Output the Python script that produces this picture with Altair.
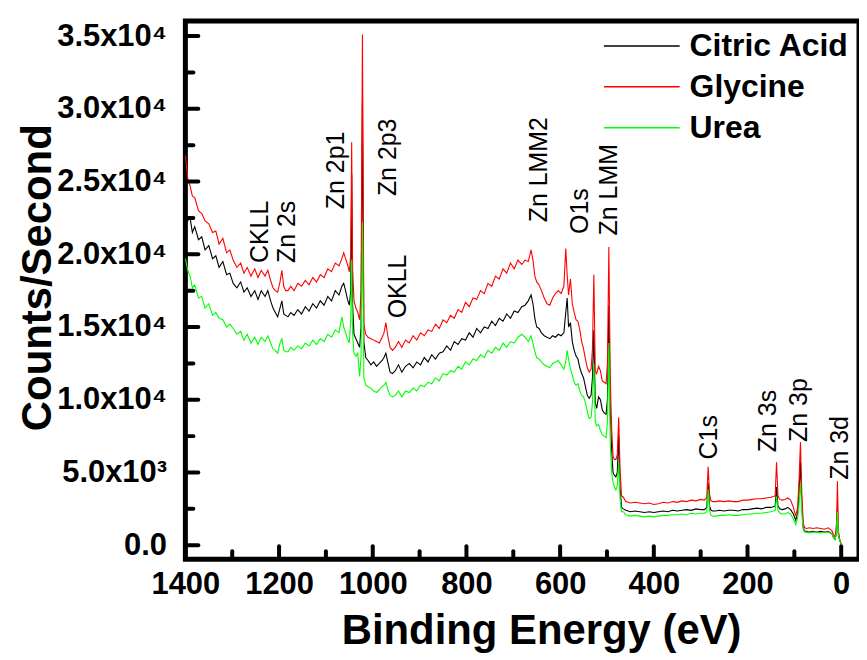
import altair as alt
import pandas as pd

FONT = "Liberation Sans"
SERIES = ["Citric Acid", "Glycine", "Urea"]
COLORS = ["#000000", "#ff0000", "#00ff00"]

# Binding energy (eV) sampled along the survey scan
ENERGY = [
    1400, 1395, 1390, 1385, 1380, 1372, 1365, 1358, 1350, 1342, 1335, 1328, 1320, 1312, 1305,
    1298, 1290, 1282, 1275, 1268, 1260, 1252, 1245, 1238, 1230, 1224, 1218, 1213, 1208, 1203, 1198, 1194, 1190, 1186,
    1181, 1175, 1168, 1160, 1152, 1144, 1136, 1128, 1120, 1112, 1104, 1096, 1088, 1080, 1072, 1066, 1062, 1058, 1054, 1050,
    1047, 1045, 1043, 1040, 1036, 1032, 1028, 1025, 1022, 1019, 1015, 1010,
    1004, 998, 992, 986, 980, 976, 972, 968, 963, 958,
    952, 945, 938, 930, 922, 914, 906, 898, 890, 882, 874, 866, 858, 850, 842, 834, 826, 818, 810, 802,
    794, 786, 778, 770, 762, 754, 746, 738, 730, 722, 714, 706, 698, 690, 682,
    675, 668, 662, 658, 654, 650, 645, 640, 634, 628, 622, 616, 610, 604,
    598, 592, 588, 585, 582, 578, 574, 570, 566, 562, 558, 554, 550, 546, 542, 538, 534, 531, 528, 525,
    522, 518, 514, 510, 506, 502, 499, 496, 493, 490, 487, 484, 481, 478, 475, 472, 469,
    465, 460, 450, 440, 430, 420, 410, 400, 390, 380, 370, 360, 350, 340, 330, 320, 310, 300,
    292, 287, 284, 281, 278, 274,
    268, 260, 250, 240, 230, 220, 210, 200, 190, 180, 170, 160, 150, 145,
    141, 138, 135, 131, 126, 120, 114, 108, 102, 97, 93,
    90, 87, 84, 81, 78, 74, 68, 60, 52, 44, 36, 28, 20, 16, 13, 10, 8, 6, 3, 0,
]

CITRIC = [
    23200, 22300, 22500, 21500, 21900, 21000, 21200, 20300, 20600, 19700, 19900, 19100, 19500, 18600, 18700,
    18000, 17700, 18100, 17400, 17700, 17100, 17500, 16900, 17500, 17100, 17500, 16800, 16300, 16000, 15700, 16300, 16800, 15900, 15800,
    15700, 16000, 15800, 16200, 15900, 16400, 16100, 16600, 16300, 16800, 16500, 17100, 16800, 17500, 17200, 17800, 18000, 17500, 16900, 16500,
    17500, 25500, 16500, 14500, 14200, 13900, 13600, 15000, 30500, 14000, 12900, 12700,
    12400, 12600, 12300, 12500, 12700, 12900, 13200, 12600, 11900, 11800,
    12000, 12400, 11900, 12300, 12500, 12200, 12600, 12400, 12900, 12600, 13100, 12800, 13200, 13300, 13700, 13400, 14000, 13800, 14200, 14100,
    14600, 14300, 14900, 14600, 15000, 14900, 15400, 15100, 15600, 15400, 15900, 15600, 16100, 16000, 16400,
    16500, 16800, 17200, 16600, 15600, 15000, 14900, 14600, 14400, 14300, 14200, 14400, 14300, 14500,
    14400, 14600, 16000, 17000, 15000, 15300, 14000, 13400, 13000, 12800, 12200, 11800, 11500, 10900, 10300, 10100, 10300, 11500, 14800, 9800,
    9400, 10200, 10000, 9300, 9100, 9000, 10000, 16500, 9200, 6500, 5000, 4800, 4700, 5000, 7500, 4000, 2600,
    2500, 2400, 2300, 2350, 2300, 2250, 2300, 2250, 2300, 2350, 2300, 2400, 2350, 2400, 2450, 2400, 2500, 2450,
    2450, 2600, 4300, 2700, 2400, 2350,
    2350, 2400, 2350, 2400, 2400, 2350, 2450, 2450, 2500, 2550, 2500, 2600, 2600, 2650,
    2700, 4000, 2700, 2500, 2450, 2500, 2600, 2450, 2150, 1700, 2200,
    3500, 5750, 2800, 1200, 950, 950, 900, 950, 900, 950, 900, 950, 800, 500, 400, 900, 2450, 700, 300, 70,
]

GLYCINE = [
    26800, 25200, 24700, 24000, 23900, 23000, 22800, 22300, 22100, 21500, 21600, 20700, 21100, 20100, 20300,
    19600, 19100, 19400, 18700, 19100, 18500, 19000, 18400, 18900, 18500, 18900, 18200, 17700, 17500, 17400, 18100, 18900, 17800, 17500,
    17500, 17800, 17500, 18000, 17800, 18200, 17900, 18400, 18100, 18600, 18400, 19000, 18800, 19400, 19200, 19700, 20100, 19700, 19300, 18800,
    20000, 27700, 19000, 16800, 16300, 16000, 15500, 17500, 35100, 15200, 14500, 14300,
    14200, 14100, 14000, 13900, 14300, 14600, 15300, 14400, 13600, 13400,
    13600, 14000, 13600, 14100, 13900, 14400, 14100, 14600, 14400, 14800, 14700, 15200, 14900, 15500, 15300, 15800, 15600, 16200, 16000, 16700,
    16400, 17000, 16900, 17500, 17300, 18000, 17800, 18500, 18300, 19000, 18700, 19400, 19000, 19600, 19300,
    19600, 19500, 20300, 19600, 18500, 18100, 17900, 17500, 17000, 16600, 16500, 17000, 17300, 17500,
    17300, 17800, 20400, 18600, 17200, 18300, 16600, 16000, 15500, 15400, 14800, 14000, 13500, 12800, 12200, 11900, 12100, 13500, 18600, 12000,
    11800, 12300, 12000, 11300, 11200, 11100, 12500, 20500, 11500, 8000, 6100, 5900, 5900, 6200, 8800, 5200, 3400,
    3300, 3000, 2900, 2950, 2900, 2850, 2900, 2800, 2850, 2950, 2900, 3000, 2950, 3050, 3000, 3100, 3050, 3150,
    3100, 3300, 5400, 3500, 3050, 3000,
    3000, 3050, 3000, 3050, 3000, 3000, 3100, 3100, 3150, 3200, 3200, 3250, 3300, 3350,
    3400, 5700, 3400, 3150, 3100, 3150, 3250, 3100, 2600, 2000, 2600,
    4500, 7100, 3500, 1500, 1200, 1150, 1200, 1150, 1200, 1150, 1100, 1200, 1000, 700, 550, 1500, 4400, 1000, 400, 100,
]

UREA = [
    19700, 18900, 18500, 17700, 17900, 17000, 17100, 16300, 16600, 15800, 16000, 15600, 15500, 15000, 15200,
    14900, 14500, 14700, 14100, 14500, 13900, 14300, 13800, 14300, 14000, 14400, 13900, 13500, 13400, 13200, 13900, 14200, 13400, 13300,
    13300, 13600, 13400, 13700, 13500, 13900, 13700, 14100, 13800, 14200, 14000, 14500, 14300, 14800, 14600, 15700, 15000, 14600, 14200, 13900,
    15500, 19600, 14500, 13200, 13000, 13200, 11600, 13000, 22200, 11500, 11000, 10900,
    10800, 10600, 10500, 10700, 10900, 11000, 11200, 10700, 10300, 10200,
    10300, 10600, 10200, 10600, 10500, 10800, 10600, 11000, 10900, 11200, 11100, 11500, 11300, 11800, 11700, 12000, 11900, 12300, 12100, 12600,
    12400, 12800, 12700, 13100, 12900, 13400, 13200, 13600, 13400, 13900, 13600, 14000, 13900, 14300, 14500,
    14300, 14000, 14400, 13900, 13300, 12900, 12800, 12600, 12400, 12300, 12200, 12500, 12600, 12700,
    12400, 12100, 12600, 13400, 12800, 12100, 11700, 11200, 11000, 11100, 10600, 10300, 10200, 9800, 9200, 8700, 8800, 9800, 12500, 8500,
    8200, 8300, 7900, 7600, 7500, 7400, 8500, 13900, 7000, 5000, 4300, 4000, 3800, 4100, 5700, 3200, 2300,
    2300, 2100, 2000, 2050, 2000, 1950, 2000, 1950, 2000, 2050, 2050, 2100, 2100, 2150, 2100, 2200, 2150, 2200,
    2200, 2300, 3850, 2400, 2050, 2000,
    2000, 2050, 2050, 2100, 2050, 2050, 2100, 2150, 2150, 2200, 2200, 2250, 2300, 2350,
    2400, 3350, 2400, 2200, 2150, 2150, 2250, 2150, 1800, 1400, 1900,
    2800, 4300, 2200, 1100, 900, 900, 850, 900, 900, 850, 900, 900, 800, 500, 400, 900, 2300, 700, 300, 70,
]

PEAK_LABELS = ["CKLL", "Zn 2s", "Zn 2p1", "Zn 2p3", "OKLL", "Zn LMM2", "O1s", "Zn LMM",
               "C1s", "Zn 3s", "Zn 3p", "Zn 3d"]
PEAK_E = [1240, 1183, 1079, 968, 947, 645, 557, 496, 283, 157, 89, 2]
PEAK_Y = [19400, 19400, 23100, 24000, 15600, 22200, 21400, 21300, 5900, 6400, 7100, 4500]

X_MAJOR = [1400, 1200, 1000, 800, 600, 400, 200, 0]
X_MINOR = [1300, 1100, 900, 700, 500, 300, 100]
Y_MAJOR = [0, 5000, 10000, 15000, 20000, 25000, 30000, 35000]
Y_MINOR = [2500, 7500, 12500, 17500, 22500, 27500, 32500]

for _name, _vals in zip(SERIES, [CITRIC, GLYCINE, UREA]):
    if len(_vals) != len(ENERGY):
        raise ValueError(f"{_name}: {len(_vals)} values vs {len(ENERGY)} energies")

df = pd.DataFrame({
    "energy": ENERGY * 3,
    "counts": CITRIC + GLYCINE + UREA,
    "sample": [s for s in SERIES for _ in ENERGY],
})
peaks = pd.DataFrame({"label": PEAK_LABELS, "energy": PEAK_E, "counts": PEAK_Y})

W, H = 676, 540
X_SCALE = alt.Scale(domain=[-38, 1400], reverse=True, nice=False, zero=False)
Y_SCALE = alt.Scale(domain=[-960, 36030], nice=False, zero=False)

y_label_expr = (
    "datum.value == 0 ? '0.0' : (datum.value < 10000 ? "
    "format(datum.value / 1000, '.1f') + 'x10\u00b3' : "
    "format(datum.value / 10000, '.1f') + 'x10\u2074')"
)

X_AXIS = alt.Axis(
    values=X_MAJOR, format="d", title="Binding Energy (eV)", grid=False,
    domain=False, ticks=False, tickSize=0, labelFont=FONT, labelFontSize=31,
    labelFontWeight="bold", labelColor="black", labelPadding=10,
    labelFlush=False, labelOverlap=False, titleFont=FONT, titleFontSize=42,
    titleFontWeight="bold", titleColor="black", titleX=357, titleY=85,
    titleBaseline="alphabetic", titleAlign="center")
Y_AXIS = alt.Axis(
    values=Y_MAJOR, labelExpr=y_label_expr, title="Counts/Second", grid=False,
    domain=False, ticks=False, tickSize=0, labelFont=FONT, labelFontSize=31,
    labelFontWeight="bold", labelColor="black", labelPadding=19,
    labelFlush=False, labelOverlap=False, titleFont=FONT, titleFontSize=42,
    titleFontWeight="bold", titleColor="black", titleX=-148, titleY=257,
    titleAngle=270, titleBaseline="middle", titleAlign="center")

lines = alt.Chart(df).mark_line(strokeWidth=1.1).encode(
    x=alt.X("energy:Q", scale=X_SCALE, axis=X_AXIS, title="Binding Energy (eV)"),
    y=alt.Y("counts:Q", scale=Y_SCALE, axis=Y_AXIS, title="Counts/Second"),
    color=alt.Color("sample:N", scale=alt.Scale(domain=SERIES, range=COLORS), legend=None),
)


def x_ticks(values, length):
    return alt.Chart(pd.DataFrame({"energy": values})).mark_rule(
        color="black", strokeWidth=4, strokeCap="round"
    ).encode(x=alt.X("energy:Q", scale=X_SCALE, axis=X_AXIS, title="Binding Energy (eV)"),
             y=alt.value(H), y2=alt.value(H - length))


def y_ticks(values, length):
    return alt.Chart(pd.DataFrame({"counts": values})).mark_rule(
        color="black", strokeWidth=4, strokeCap="round"
    ).encode(y=alt.Y("counts:Q", scale=Y_SCALE, axis=Y_AXIS, title="Counts/Second"),
             x=alt.value(0), x2=alt.value(length))


labels = alt.Chart(peaks).mark_text(
    angle=270, align="left", baseline="middle", font=FONT, fontSize=25, color="black"
).encode(
    x=alt.X("energy:Q", scale=X_SCALE, axis=X_AXIS, title="Binding Energy (eV)"),
    y=alt.Y("counts:Q", scale=Y_SCALE, axis=Y_AXIS, title="Counts/Second"),
    text="label:N",
)


def legend_entry(name, color, ypix):
    d = pd.DataFrame({"name": [name]})
    rule = alt.Chart(d).mark_rule(color=color, strokeWidth=1.5).encode(
        x=alt.value(420), x2=alt.value(496), y=alt.value(ypix))
    txt = alt.Chart(d).mark_text(
        align="left", baseline="middle", font=FONT, fontSize=32, fontWeight="bold", color="black"
    ).encode(x=alt.value(506), y=alt.value(ypix), text="name:N")
    return [rule, txt]


legend_layers = []
for name, color, ypix in zip(SERIES, COLORS, [25, 66, 107]):
    legend_layers += legend_entry(name, color, ypix)

chart = alt.layer(
    lines,
    x_ticks(X_MAJOR, 13), x_ticks(X_MINOR, 8),
    y_ticks(Y_MAJOR, 13), y_ticks(Y_MINOR, 8),
    labels,
    *legend_layers,
).properties(
    width=W, height=H,
    autosize=alt.AutoSizeParams(type="none"),
    padding={"left": 178, "top": 12, "right": 0, "bottom": 96},
    background="white",
).configure_view(stroke="black", strokeWidth=5)

chart.save("out.html", embed_options={"renderer": "svg", "actions": False})
